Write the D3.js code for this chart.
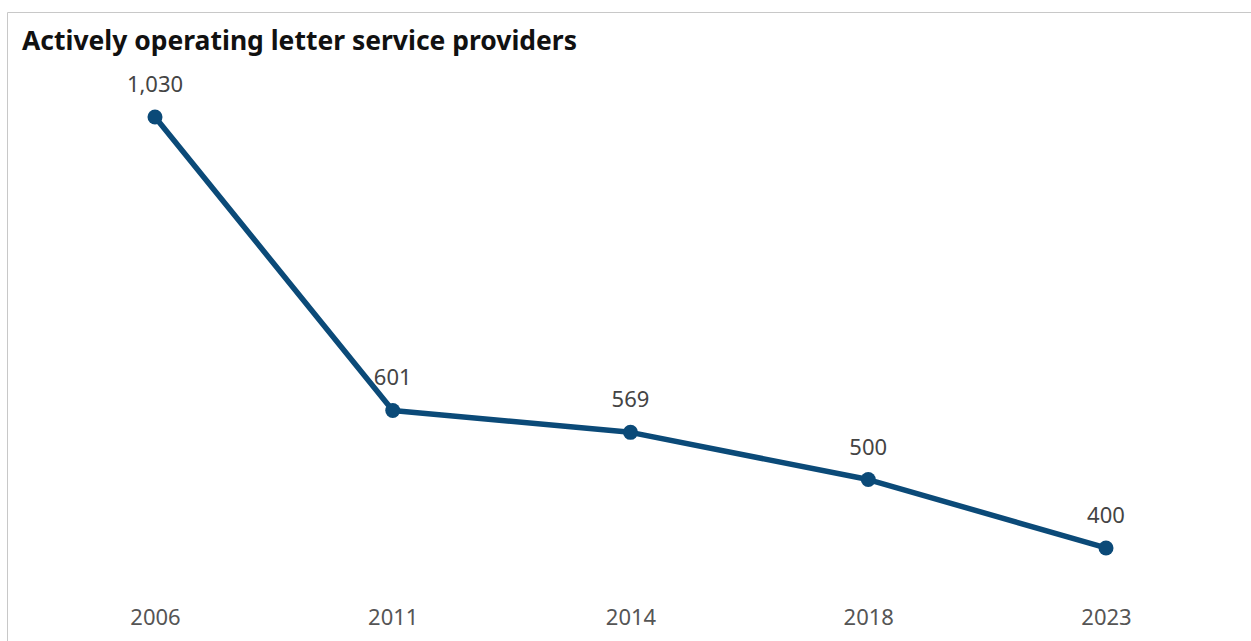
<!DOCTYPE html>
<html>
<head>
<meta charset="utf-8">
<script src="https://cdn.jsdelivr.net/npm/d3@7"></script>
<style>
  html, body { margin: 0; padding: 0; background: #fff; }
  svg { display: block; }
</style>
</head>
<body>
<svg id="chart" width="1251" height="641"></svg>
<script>
// Number of actively operating letter service providers by year
const years = ["2006", "2011", "2014", "2018", "2023"];
const providers = [1030, 601, 569, 500, 400];

const width = 1251, height = 641;
const svg = d3.select("#chart");
const font = "'Noto Sans', 'Open Sans', sans-serif";

// Frame lines along top and left edges
svg.append("line").attr("x1", 7.5).attr("x2", width).attr("y1", 12.5).attr("y2", 12.5)
  .attr("stroke", "#c8c8c8").attr("stroke-width", 1);
svg.append("line").attr("x1", 7.5).attr("x2", 7.5).attr("y1", 12.5).attr("y2", height)
  .attr("stroke", "#c8c8c8").attr("stroke-width", 1);

svg.append("text")
  .attr("x", 22).attr("y", 50)
  .attr("font-family", font).attr("font-weight", 700).attr("font-size", 26.5)
  .attr("fill", "#111")
  .attr("textLength", 555).attr("lengthAdjust", "spacingAndGlyphs")
  .text("Actively operating letter service providers");

const x = d3.scalePoint().domain(years).range([155, 1106]);
const y = d3.scaleLinear().domain([0, 1030]).range([821.6, 117]);

const data = years.map((yr, i) => ({ year: yr, value: providers[i] }));

// Year axis (labels only)
const xAxis = svg.append("g").attr("transform", "translate(0,609)")
  .call(d3.axisBottom(x).tickSize(0).tickPadding(0));
xAxis.select(".domain").remove();
xAxis.selectAll("text")
  .attr("font-family", font).attr("font-size", 22).attr("fill", "#555")
  .attr("dy", "0.71em");

// Trend line
svg.append("path")
  .datum(data)
  .attr("fill", "none")
  .attr("stroke", "#0b4a78")
  .attr("stroke-width", 5.5)
  .attr("stroke-linejoin", "round")
  .attr("d", d3.line().x(d => x(d.year)).y(d => y(d.value)));

svg.selectAll("circle.pt").data(data).join("circle")
  .attr("class", "pt")
  .attr("cx", d => x(d.year)).attr("cy", d => y(d.value))
  .attr("r", 7.5).attr("fill", "#0b4a78");

// Value labels above each point
svg.selectAll("text.val").data(data).join("text")
  .attr("class", "val")
  .attr("x", d => x(d.year)).attr("y", d => y(d.value) - 25)
  .attr("text-anchor", "middle")
  .attr("font-family", font).attr("font-size", 22).attr("fill", "#444")
  .text(d => d3.format(",")(d.value));
</script>
</body>
</html>
